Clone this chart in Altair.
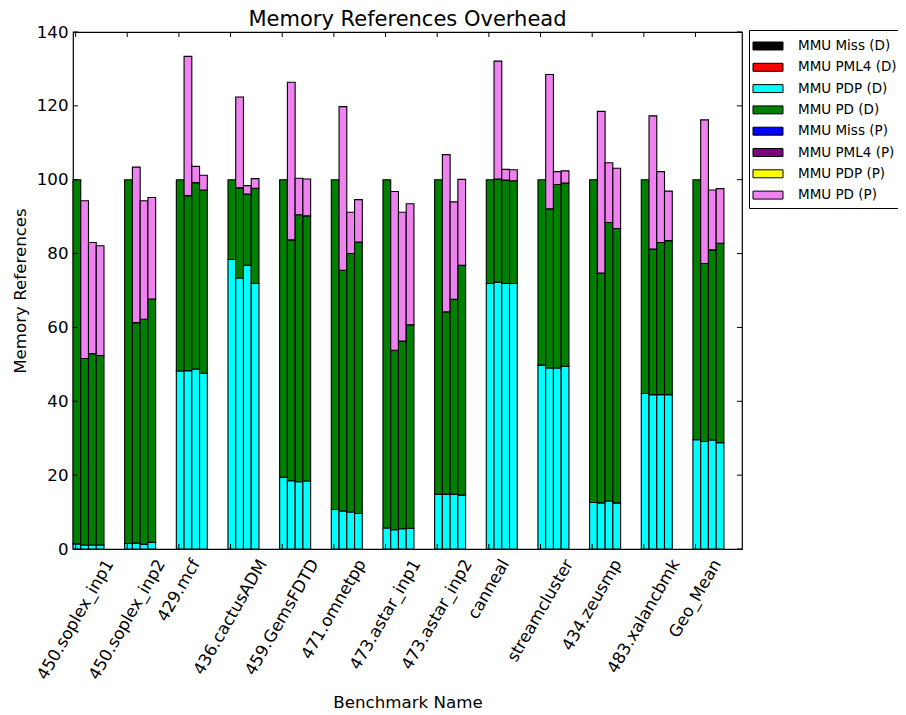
import altair as alt
import pandas as pd

benchmarks = ["450.soplex_inp1", "450.soplex_inp2", "429.mcf", "436.cactusADM",
              "459.GemsFDTD", "471.omnetpp", "473.astar_inp1", "473.astar_inp2",
              "canneal", "streamcluster", "434.zeusmp", "483.xalancbmk", "Geo_Mean"]

series = ["MMU Miss (D)", "MMU PML4 (D)", "MMU PDP (D)", "MMU PD (D)",
          "MMU Miss (P)", "MMU PML4 (P)", "MMU PDP (P)", "MMU PD (P)"]
colors = ["#000000", "#ff0000", "#00ffff", "#008000",
          "#0000ff", "#800080", "#ffff00", "#ee82ee"]

# values per bar (4 bars per benchmark), 13 benchmarks each
pdp_d = [
    [1.4, 1.5, 48.2, 78.4, 19.4, 10.7, 5.7, 14.8, 71.9, 49.8, 12.6, 42.1, 29.6],
    [1.1, 1.6, 48.3, 73.4, 18.5, 10.3, 5.2, 14.8, 72.2, 49.0, 12.5, 41.8, 29.1],
    [1.1, 1.3, 48.7, 76.8, 18.2, 10.0, 5.5, 14.8, 71.9, 49.0, 13.0, 41.8, 29.5],
    [1.1, 1.8, 47.6, 71.9, 18.4, 9.6, 5.6, 14.6, 71.9, 49.5, 12.5, 41.8, 28.8],
]
pd_d = [
    [98.6, 98.5, 51.8, 21.6, 80.6, 89.3, 94.3, 85.2, 28.1, 50.2, 87.4, 57.9, 70.4],
    [50.5, 59.7, 47.4, 24.4, 65.2, 65.2, 48.6, 49.4, 28.0, 43.1, 62.2, 39.4, 48.2],
    [51.8, 60.9, 50.5, 19.3, 72.3, 70.0, 50.8, 52.8, 28.0, 49.7, 75.4, 41.2, 51.5],
    [51.3, 65.9, 49.6, 25.8, 71.8, 73.5, 55.1, 62.2, 27.8, 49.6, 74.3, 41.7, 54.0],
]
pd_p = [
    [0.0] * 13,
    [42.7, 42.1, 37.7, 24.6, 42.7, 44.3, 43.0, 42.6, 31.9, 36.4, 43.8, 36.1, 38.9],
    [30.1, 32.1, 4.4, 2.3, 9.9, 11.2, 34.9, 26.4, 2.9, 3.5, 16.2, 19.2, 16.2],
    [29.7, 27.5, 4.0, 2.6, 10.0, 11.5, 32.8, 23.3, 3.0, 3.3, 16.3, 13.4, 14.8],
]
zeros = [[0.0] * 13 for _ in range(4)]
series_values = {
    "MMU Miss (D)": zeros, "MMU PML4 (D)": zeros, "MMU PDP (D)": pdp_d, "MMU PD (D)": pd_d,
    "MMU Miss (P)": zeros, "MMU PML4 (P)": zeros, "MMU PDP (P)": zeros, "MMU PD (P)": pd_p,
}

y_ticks = [0, 20, 40, 60, 80, 100, 120, 140]

rows = []
for g, b in enumerate(benchmarks):
    for j in range(4):
        for k, s in enumerate(series):
            rows.append({"bench": b, "g": g, "bar": j, "series": s, "order": k,
                         "value": series_values[s][j][g]})
df = pd.DataFrame(rows)

W, H = 669, 517
XMIN, XMAX = -0.05, 12.9
FS = 16.67
ppu = W / (XMAX - XMIN)

# DejaVu Sans advance widths (em) for placing rotated, centred tick labels
cw = {c: 0.636 for c in "0123456789"}
cw.update({".": 0.318, "_": 0.5, "a": 0.613, "b": 0.635, "c": 0.55, "d": 0.635, "e": 0.615,
           "f": 0.352, "g": 0.635, "h": 0.634, "i": 0.278, "k": 0.579, "l": 0.278, "m": 0.974,
           "n": 0.634, "o": 0.612, "p": 0.635, "r": 0.411, "s": 0.521, "t": 0.392, "u": 0.634,
           "x": 0.592, "z": 0.525, "A": 0.684, "D": 0.77, "F": 0.575, "G": 0.775, "M": 0.863,
           "T": 0.611, "S": 0.635, "C": 0.698, "E": 0.632, "N": 0.748})
lab = pd.DataFrame({"bench": benchmarks, "g": list(range(len(benchmarks)))})
lab["lx"] = [g + (sum(cw.get(c, 0.6) for c in b) * FS / 4) / ppu for g, b in zip(lab["g"], lab["bench"])]

xs = alt.Scale(domain=[XMIN, XMAX], nice=False, zero=False)
ys = alt.Scale(domain=[0, 140], nice=False, zero=False)

x_axis = alt.Axis(title="Benchmark Name", labels=False, ticks=False, domain=False, grid=False,
                  titleFontSize=FS, titleFontWeight="normal", titleColor="black",
                  titleY=158, titleBaseline="alphabetic", titleX=W / 2, titleAlign="center")
y_axis = alt.Axis(values=y_ticks, title="Memory References", grid=False, ticks=False,
                  domain=False, labelPadding=5, labelFontSize=FS, labelColor="black",
                  titleFontSize=FS, titleFontWeight="normal", titleColor="black",
                  titleX=-53, titleY=H / 2, titleAngle=270, titleBaseline="middle",
                  titleAlign="center")

bars = alt.Chart(df).transform_filter("datum.value > 0").transform_stack(
    stack="value", groupby=["bench", "bar"], sort=[alt.SortField("order")], as_=["y0", "y1"]
).transform_calculate(
    x0="datum.g - 0.05 + datum.bar * 0.15", x1="datum.g + 0.10 + datum.bar * 0.15"
).mark_rect(stroke="black", strokeWidth=1.1).encode(
    x=alt.X("x0:Q", scale=xs, axis=x_axis),
    x2="x1:Q",
    y=alt.Y("y0:Q", scale=ys, axis=y_axis),
    y2="y1:Q",
    color=alt.Color("series:N", scale=alt.Scale(domain=series, range=colors),
                    legend=alt.Legend(title=None, orient="none", legendX=676, legendY=-2,
                                      symbolType="M-1.58,-0.42H1.58V0.42H-1.58Z", symbolSize=361,
                                      symbolStrokeColor="black", symbolStrokeWidth=1,
                                      symbolOpacity=1, symbolOffset=3,
                                      labelFontSize=13.5, labelColor="black", labelOffset=20,
                                      strokeColor="black", fillColor="white", padding=6,
                                      rowPadding=4.3, labelLimit=300)),
)

tx = pd.DataFrame({"t": list(range(len(benchmarks)))})
ty = pd.DataFrame({"v": y_ticks})
tick_bottom = alt.Chart(tx).mark_rule(color="black", strokeWidth=1).encode(
    x=alt.X("t:Q", scale=xs, axis=x_axis), y=alt.value(H), y2=alt.value(H - 5))
tick_top = alt.Chart(tx).mark_rule(color="black", strokeWidth=1).encode(
    x=alt.X("t:Q", scale=xs, axis=x_axis), y=alt.value(0), y2=alt.value(5))
tick_left = alt.Chart(ty).mark_rule(color="black", strokeWidth=1).encode(
    y=alt.Y("v:Q", scale=ys, axis=y_axis), x=alt.value(0), x2=alt.value(5))
tick_right = alt.Chart(ty).mark_rule(color="black", strokeWidth=1).encode(
    y=alt.Y("v:Q", scale=ys, axis=y_axis), x=alt.value(W), x2=alt.value(W - 5))

labels = alt.Chart(lab).mark_text(angle=300, align="right", baseline="middle",
                                  fontSize=FS, color="black").encode(
    x=alt.X("lx:Q", scale=xs, axis=x_axis), y=alt.value(H + 12), text="bench:N")

chart = alt.layer(bars, tick_bottom, tick_top, tick_left, tick_right, labels).properties(
    width=W, height=H,
    padding={"left": 65, "top": 24, "right": 156, "bottom": 162},
    autosize=alt.AutoSizeParams(type="none"),
    title=alt.TitleParams("Memory References Overhead", fontSize=21, fontWeight="normal",
                          anchor="middle", frame="group", offset=-6, color="black"),
).configure(font="DejaVu Sans").configure_view(stroke="black", strokeWidth=1.2)

chart.save("out.html", embed_options={"renderer": "svg", "actions": False})
